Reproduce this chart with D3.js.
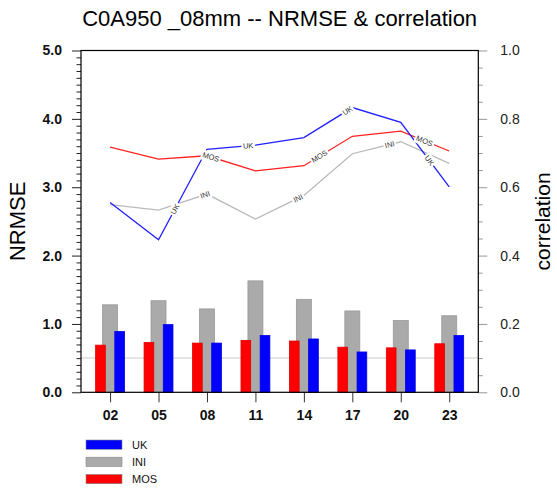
<!DOCTYPE html>
<html>
<head>
<meta charset="utf-8">
<script src="https://cdn.jsdelivr.net/npm/d3@7"></script>
<style>
  html, body { margin: 0; padding: 0; background: #fff; }
  svg { display: block; font-family: "Liberation Sans", Arial, Helvetica, sans-serif; }
</style>
</head>
<body>
<svg id="chart" width="557" height="490"></svg>
<script>
// Forecast hours on the x axis
const categories = ["02", "05", "08", "11", "14", "17", "20", "23"];

// NRMSE (left axis, bars)
const nrmseMOS = [0.69, 0.73, 0.72, 0.76, 0.75, 0.66, 0.65, 0.71];
const nrmseINI = [1.28, 1.34, 1.22, 1.63, 1.36, 1.19, 1.05, 1.12];
const nrmseUK  = [0.89, 0.99, 0.72, 0.83, 0.78, 0.59, 0.62, 0.83];

// Correlation (right axis, lines)
const corrUK  = [0.555, 0.446, 0.711, 0.723, 0.745, 0.833, 0.790, 0.601];
const corrINI = [0.549, 0.533, 0.580, 0.507, 0.576, 0.698, 0.733, 0.670];
const corrMOS = [0.717, 0.682, 0.692, 0.648, 0.663, 0.749, 0.764, 0.706];

// Tick values
const leftTicks = [0, 1, 2, 3, 4, 5];
const rightTicks = [0, 0.2, 0.4, 0.6, 0.8, 1.0];

// Inline line labels: [segment start index, fraction along segment]
const labelUK  = [[1, 0.34], [2, 0.85], [4, 0.90], [6, 0.59]];
const labelMOS = [[2, 0.08], [4, 0.32], [6, 0.49]];
const labelINI = [[1, 0.96], [3, 0.88], [5, 0.77]];

const legendItems = ["UK", "INI", "MOS"];

// ---- layout ----
const L = 81, R = 478.3, T = 50.5, B = 392.3;
const colors = { UK: "#0000ff", INI: "#aaaaaa", MOS: "#ff0000" };
const lineColors = { UK: "#2020ff", INI: "#bababa", MOS: "#ff2020" };

const svg = d3.select("#chart");

const x = d3.scaleLinear().domain([-0.6, categories.length - 0.4]).range([L, R]);
const yL = d3.scaleLinear().domain([0, 5]).range([B, T]);
const yR = d3.scaleLinear().domain([0, 1]).range([B, T]);

// Title
svg.append("text")
  .attr("x", (L + R) / 2).attr("y", 26)
  .attr("text-anchor", "middle")
  .attr("font-size", 22)
  .attr("fill", "#000")
  .text("C0A950 _08mm -- NRMSE & correlation");

// Reference line at NRMSE 0.5
svg.append("line")
  .attr("x1", L).attr("x2", R)
  .attr("y1", yL(0.5)).attr("y2", yL(0.5))
  .attr("stroke", "#dcdcdc").attr("stroke-width", 1.5);

// Bars
const unit = x(1) - x(0);
const wGray = 15 / unit, wSide = 9.7 / unit, off = 9.6 / unit;
const barG = svg.append("g");
function bars(vals, dx, w, fill, stroke) {
  barG.selectAll(null).data(vals).enter().append("rect")
    .attr("x", (d, i) => x(i + dx - w / 2))
    .attr("width", (d, i) => x(i + dx + w / 2) - x(i + dx - w / 2))
    .attr("y", d => yL(d))
    .attr("height", d => yL(0) - yL(d))
    .attr("fill", fill)
    .attr("stroke", stroke).attr("stroke-width", 0.8);
}
bars(nrmseINI, 0, wGray, colors.INI, "#9a9a9a");
bars(nrmseMOS, -off, wSide, colors.MOS, "#e00000");
bars(nrmseUK, off, wSide, colors.UK, "#0000e0");

// Correlation lines
const line = d3.line().x((d, i) => x(i)).y(d => yR(d));
const series = [
  { name: "INI", vals: corrINI, labels: labelINI },
  { name: "MOS", vals: corrMOS, labels: labelMOS },
  { name: "UK", vals: corrUK, labels: labelUK }
];
series.forEach(s => {
  svg.append("path").datum(s.vals)
    .attr("d", line)
    .attr("fill", "none")
    .attr("stroke", lineColors[s.name])
    .attr("stroke-width", 1.3);
});

// Inline labels along the lines
series.forEach(s => {
  s.labels.forEach(([i, f]) => {
    const x0 = x(i), y0 = yR(s.vals[i]);
    const x1 = x(i + 1), y1 = yR(s.vals[i + 1]);
    const px = x0 + (x1 - x0) * f, py = y0 + (y1 - y0) * f;
    let ang = Math.atan2(y1 - y0, x1 - x0) * 180 / Math.PI;
    if (ang > 90) ang -= 180;
    if (ang < -90) ang += 180;
    const g = svg.append("g").attr("transform", `translate(${px},${py}) rotate(${ang})`);
    const t = g.append("text")
      .attr("text-anchor", "middle")
      .attr("dy", "0.35em")
      .attr("font-size", 7.5)
      .attr("fill", "#333")
      .text(s.name);
    const bb = t.node().getBBox();
    g.insert("rect", "text")
      .attr("x", bb.x - 1.5).attr("y", bb.y - 0.5)
      .attr("width", bb.width + 3).attr("height", bb.height + 1)
      .attr("fill", "#fff");
  });
});

// Left axis with minor ticks
const minorL = d3.range(0, 50.5).map(d => d / 10).filter(d => Math.abs(d - Math.round(d)) > 1e-6);
svg.append("g").attr("transform", `translate(${L},0)`)
  .call(d3.axisLeft(yL).tickValues(minorL).tickSize(4.5).tickFormat(""))
  .call(g => g.select(".domain").remove())
  .call(g => g.selectAll("line").attr("stroke", "#222"));
svg.append("g").attr("transform", `translate(${L},0)`)
  .call(d3.axisLeft(yL).tickValues(leftTicks).tickSize(9).tickPadding(10).tickFormat(d3.format(".1f")))
  .call(g => g.select(".domain").remove())
  .call(g => g.selectAll("line").attr("stroke", "#222"))
  .call(g => g.selectAll("text").attr("font-size", 14).attr("font-weight", "bold").attr("fill", "#111")
    .attr("font-family", "'Liberation Sans', Arial, sans-serif"));

// Right axis with minor ticks
const minorR = d3.range(0, 20.5).map(d => d / 20).filter(d => Math.abs(d * 5 - Math.round(d * 5)) > 1e-6);
svg.append("g").attr("transform", `translate(${R},0)`)
  .call(d3.axisRight(yR).tickValues(minorR).tickSize(4.5).tickFormat(""))
  .call(g => g.select(".domain").remove())
  .call(g => g.selectAll("line").attr("stroke", "#999"));
svg.append("g").attr("transform", `translate(${R},0)`)
  .call(d3.axisRight(yR).tickValues(rightTicks).tickSize(9).tickPadding(13).tickFormat(d3.format(".1f")))
  .call(g => g.select(".domain").remove())
  .call(g => g.selectAll("line").attr("stroke", "#999"))
  .call(g => g.selectAll("text").attr("font-size", 14).attr("fill", "#222")
    .attr("font-family", "'Liberation Sans', Arial, sans-serif"));

// Bottom axis
svg.append("g").attr("transform", `translate(0,${B})`)
  .call(d3.axisBottom(x).tickValues(d3.range(categories.length)).tickSize(10).tickPadding(8)
    .tickFormat(i => categories[i]))
  .call(g => g.select(".domain").remove())
  .call(g => g.selectAll("line").attr("stroke", "#333"))
  .call(g => g.selectAll("text").attr("font-size", 14).attr("font-weight", "bold").attr("fill", "#111")
    .attr("font-family", "'Liberation Sans', Arial, sans-serif"));

// Frame
svg.append("rect")
  .attr("x", L).attr("y", T).attr("width", R - L).attr("height", B - T)
  .attr("fill", "none").attr("stroke", "#000").attr("stroke-width", 1.2);

// Axis titles
svg.append("text")
  .attr("transform", `translate(25,${(T + B) / 2}) rotate(-90)`)
  .attr("text-anchor", "middle")
  .attr("font-size", 22)
  .text("NRMSE");
svg.append("text")
  .attr("transform", `translate(550,${(T + B) / 2}) rotate(-90)`)
  .attr("text-anchor", "middle")
  .attr("font-size", 21)
  .text("correlation");

// Legend
const lg = svg.append("g");
legendItems.forEach((k, i) => {
  const yy = 440 + i * 17.2;
  lg.append("rect")
    .attr("x", 86).attr("y", yy).attr("width", 36).attr("height", 9.3)
    .attr("fill", colors[k]).attr("stroke", "#888").attr("stroke-width", 0.6);
  lg.append("text")
    .attr("x", 132).attr("y", yy + 4.7).attr("dy", "0.35em")
    .attr("font-size", 11).attr("fill", "#111")
    .text(k);
});
</script>
</body>
</html>
